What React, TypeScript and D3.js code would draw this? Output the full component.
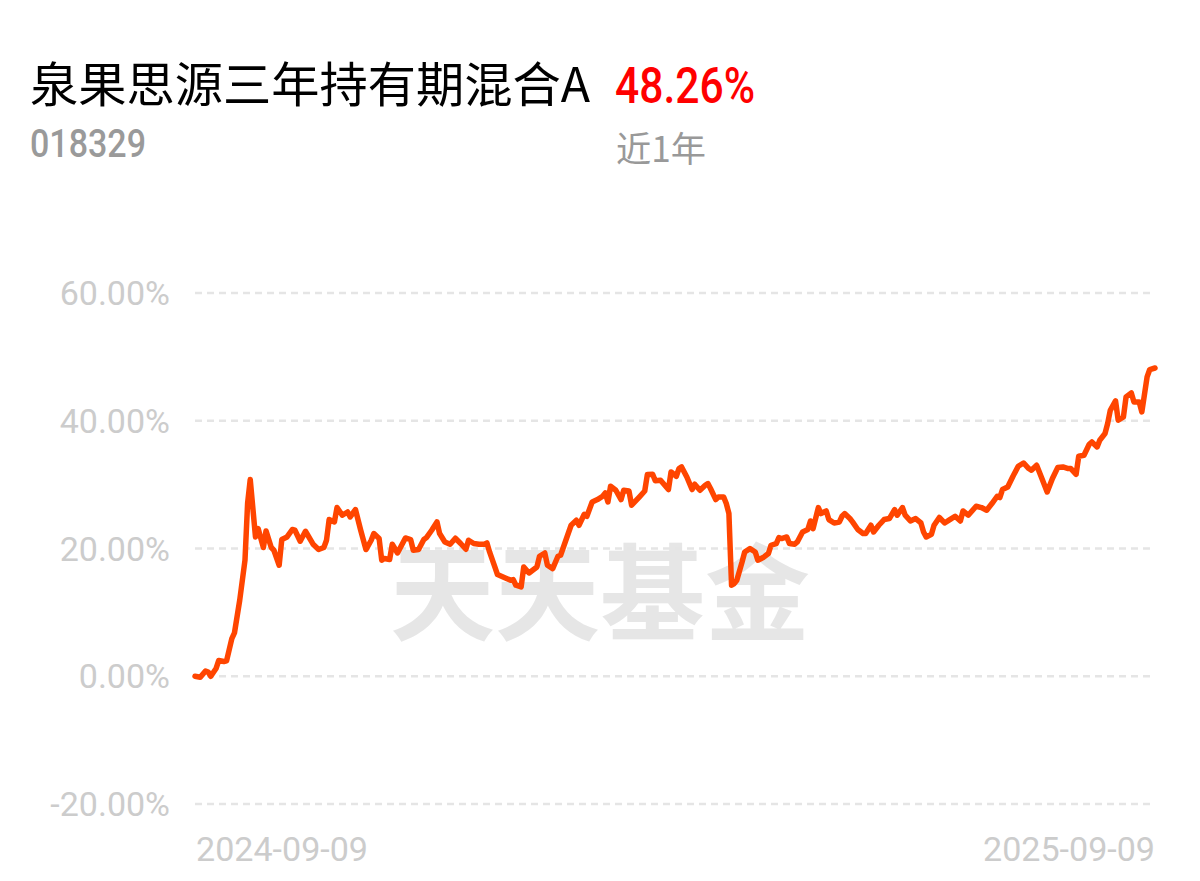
import React from "react";
import * as d3 from "d3";

const fundName = "泉果思源三年持有期混合A";
const fundCode = "018329";
const periodReturn = "48.26%";
const periodLabel = "近1年";
const watermark = "天天基金";
const startDate = "2024-09-09";
const endDate = "2025-09-09";
const yTicks = [-20, 0, 20, 40, 60];

// days since 2024-09-09
const dayOffsets = [
  0, 2, 4, 5, 6, 8, 9, 11, 12, 14, 15, 17, 19, 20, 21, 23, 24, 26, 27, 29,
  30, 32, 33, 35, 37, 38, 40, 42, 45, 47, 49, 50, 51, 53, 54, 56, 58, 59, 61, 63,
  65, 67, 68, 70, 71, 72, 74, 75, 77, 80, 82, 83, 85, 87, 88, 90, 92, 93, 95, 97,
  99, 101, 103, 104, 106, 108, 110, 111, 112, 114, 115, 118, 120, 121, 122, 124, 125, 127, 130, 131,
  133, 134, 136, 138, 139, 141, 143, 145, 146, 148, 149, 151, 153, 155, 156, 157, 158, 160, 162, 163,
  165, 166, 168, 169, 171, 172, 174, 175, 177, 180, 181, 183, 184, 185, 187, 189, 190, 192, 194, 195,
  196, 198, 199, 201, 202, 203, 204, 205, 206, 208, 209, 211, 213, 214, 216, 218, 219, 221, 222, 223,
  225, 226, 228, 229, 231, 233, 234, 235, 237, 238, 240, 241, 243, 245, 246, 247, 249, 250, 252, 254,
  255, 257, 258, 260, 262, 264, 266, 267, 269, 270, 272, 274, 276, 277, 278, 280, 281, 283, 285, 287,
  289, 291, 292, 294, 297, 299, 301, 303, 305, 306, 307, 309, 311, 313, 315, 317, 318, 320, 322, 324,
  326, 328, 330, 332, 333, 335, 336, 338, 340, 341, 343, 344, 346, 347, 348, 350, 351, 353, 354, 356,
  357, 359, 360, 362, 363, 365,
];

// cumulative return, %
const returns = [
  0.0, -0.16, 0.83, 0.67, 0.0, 1.21, 2.46, 2.3, 2.4, 5.9, 6.78, 11.9, 18.16, 27.08, 30.79, 21.81, 23.12, 20.15, 22.75, 20.15,
  19.73, 17.38, 21.4, 21.81, 22.97, 22.86, 21.14, 22.7, 20.62, 19.84, 20.15, 21.29, 24.53, 24.16, 26.41, 25.21, 25.72, 24.94, 26.1, 22.86,
  19.84, 21.29, 22.34, 21.56, 18.16, 18.43, 18.27, 20.67, 19.3, 21.65, 21.4, 19.73, 19.84, 21.4, 21.71, 22.86, 24.16, 22.34, 21.03, 20.67,
  21.6, 20.78, 19.88, 21.29, 20.78, 20.67, 20.67, 20.87, 19.46, 17.11, 15.92, 15.39, 15.03, 15.14, 14.25, 13.98, 17.11, 16.17, 17.11, 18.79,
  19.3, 17.38, 16.86, 18.79, 18.94, 21.29, 23.64, 24.42, 23.64, 25.36, 25.05, 27.29, 27.66, 28.18, 28.7, 27.29, 29.75, 29.12, 27.66, 29.12,
  29.01, 26.77, 27.66, 28.1, 29.0, 31.6, 31.62, 30.6, 30.69, 29.23, 31.98, 31.31, 32.52, 32.77, 31.2, 29.23, 30.06, 29.12, 29.9, 30.17,
  29.39, 27.66, 28.07, 28.07, 27.04, 25.47, 14.25, 14.51, 15.03, 17.89, 19.46, 19.99, 19.46, 18.16, 18.58, 19.21, 20.51, 20.78, 21.71, 21.56,
  21.81, 20.78, 20.67, 21.03, 22.59, 22.97, 24.31, 23.12, 26.41, 25.47, 25.88, 24.53, 24.0, 24.16, 25.05, 25.47, 24.69, 24.16, 22.97, 22.34,
  22.34, 23.64, 22.59, 23.64, 24.53, 24.69, 26.1, 25.21, 26.41, 25.21, 24.31, 24.69, 24.0, 22.59, 21.81, 22.23, 23.64, 24.85, 24.0, 24.53,
  25.05, 24.31, 25.88, 25.21, 26.61, 26.41, 25.99, 27.04, 28.18, 27.98, 29.23, 29.64, 31.31, 32.88, 33.39, 32.52, 32.25, 33.03, 30.95, 28.85,
  30.95, 32.67, 32.77, 32.52, 32.52, 31.62, 34.44, 34.6, 36.32, 36.68, 35.9, 36.95, 38.0, 39.56, 41.64, 43.1, 40.08, 40.59, 43.73, 44.35,
  42.94, 42.94, 41.38, 46.86, 48.02, 48.26,
];

const W = 1200;
const H = 881;
const plotLeft = 195;
const plotRight = 1155;
const plotTop = 293;
const plotBottom = 804;

export default function App() {
  const parse = d3.timeParse("%Y-%m-%d");
  const start = parse(startDate) as Date;
  const end = parse(endDate) as Date;
  const x = d3.scaleTime().domain([start, end]).range([plotLeft, plotRight]);
  const y = d3.scaleLinear().domain([-20, 60]).range([plotBottom, plotTop]);

  const data = dayOffsets.map((d, i) => ({
    date: d3.timeDay.offset(start, d),
    value: returns[i],
  }));

  const line = d3
    .line<{ date: Date; value: number }>()
    .x((d) => x(d.date))
    .y((d) => y(d.value))
    .curve(d3.curveLinear);

  const sans = "Roboto, 'Noto Sans', sans-serif";
  const cjk = "'Noto Sans CJK SC', 'Noto Sans', sans-serif";
  const fmtTick = (t: number) => (t < 0 ? "-" : "") + Math.abs(t).toFixed(2) + "%";

  return (
    <svg
      width={W}
      height={H}
      style={{ position: "absolute", left: 0, top: 0, background: "#fff" }}
    >
      <rect x={0} y={0} width={W} height={H} fill="#fff" />
      <text
        x={30}
        y={102}
        fontFamily={cjk}
        fontSize={48}
        fill="#000"
        textLength={560}
        lengthAdjust="spacingAndGlyphs"
      >
        {fundName}
      </text>
      <text
        x={615}
        y={103}
        fontFamily={sans}
        fontSize={50}
        fontWeight={500}
        fill="#ff0000"
        textLength={140}
        lengthAdjust="spacingAndGlyphs"
      >
        {periodReturn}
      </text>
      <text
        x={30}
        y={157}
        fontFamily={sans}
        fontSize={38}
        fontWeight={500}
        fill="#9a9a9a"
        textLength={116}
        lengthAdjust="spacingAndGlyphs"
      >
        {fundCode}
      </text>
      <text
        x={616}
        y={162}
        fontFamily={cjk}
        fontSize={35}
        fill="#999"
        textLength={90}
        lengthAdjust="spacingAndGlyphs"
      >
        {periodLabel}
      </text>

      <text
        x={390}
        y={632}
        fontFamily={cjk}
        fontSize={105}
        fontWeight={700}
        fill="#e6e6e6"
        textLength={420}
        lengthAdjust="spacingAndGlyphs"
      >
        {watermark}
      </text>

      {yTicks.map((t) => (
        <g key={t}>
          <line
            x1={plotLeft}
            x2={plotRight}
            y1={y(t)}
            y2={y(t)}
            stroke="#e5e5e5"
            strokeWidth={2.5}
            strokeDasharray="7,5"
          />
          <text
            x={170}
            y={y(t)}
            dy="0.36em"
            textAnchor="end"
            fontFamily={sans}
            fontSize={34}
            fill="#cccccc"
          >
            {fmtTick(t)}
          </text>
        </g>
      ))}

      <text
        x={plotLeft + 1}
        y={861}
        fontFamily={sans}
        fontSize={34}
        fill="#cccccc"
        textLength={172}
        lengthAdjust="spacingAndGlyphs"
      >
        {d3.timeFormat("%Y-%m-%d")(start)}
      </text>
      <text
        x={plotRight - 172}
        y={861}
        fontFamily={sans}
        fontSize={34}
        fill="#cccccc"
        textLength={172}
        lengthAdjust="spacingAndGlyphs"
      >
        {d3.timeFormat("%Y-%m-%d")(end)}
      </text>

      <path
        d={line(data) || ""}
        fill="none"
        stroke="#ff4500"
        strokeWidth={5.5}
        strokeLinejoin="round"
        strokeLinecap="round"
      />
    </svg>
  );
}
